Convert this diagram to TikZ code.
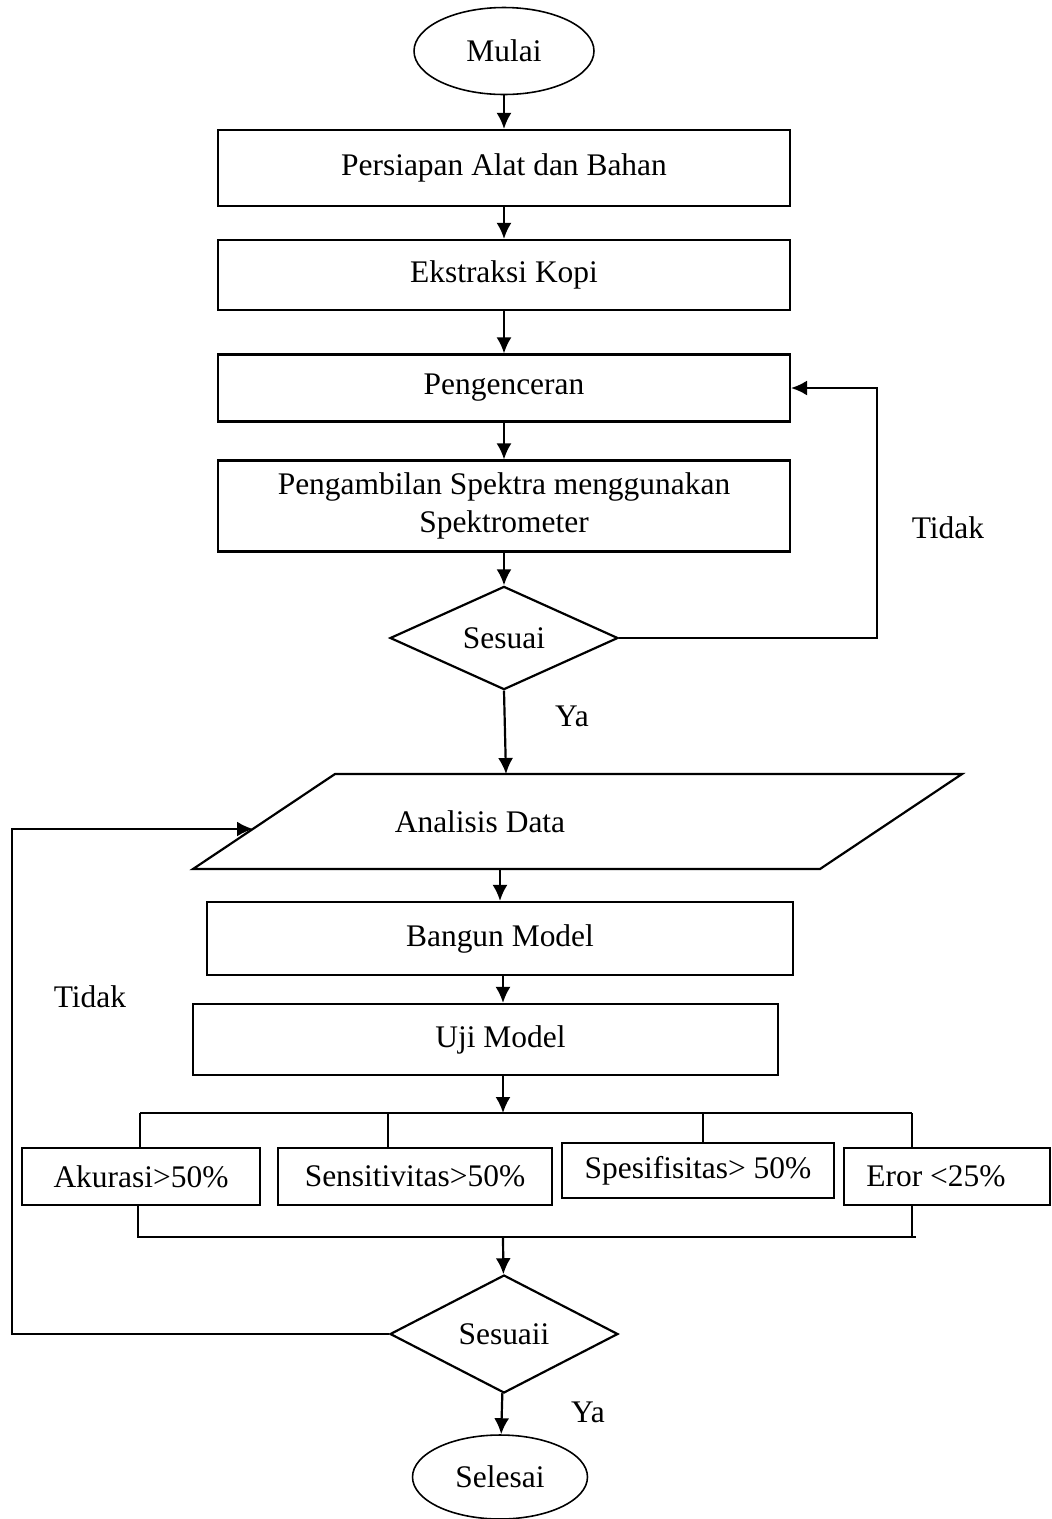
\documentclass[tikz,border=0pt]{standalone}
\usepackage{fontspec}
\setmainfont{Liberation Serif}
\usetikzlibrary{positioning,shapes.geometric,arrows.meta}

\begin{document}
\begin{tikzpicture}[x=0.02cm, y=-0.02cm, line width=1.25pt,
    font=\fontsize{17.9}{21.6}\selectfont,
    box/.style={draw, rectangle, inner sep=0pt, minimum width=11.44cm},
    term/.style={draw, ellipse, inner sep=0pt, line width=0.9pt},
    cond/.style={draw, diamond, inner sep=0pt, minimum width=4.56cm},
    crit/.style={draw, rectangle, inner sep=0pt, minimum height=1.14cm},
    arr/.style={-{Latex[length=0.32cm, width=0.3cm]}}]
    \useasboundingbox (0,0) rectangle (1052,1519);

    \node[term, minimum width=3.6cm, minimum height=1.74cm] (mulai) at (504,51) {Mulai};
    \node[box, minimum height=1.52cm] (siap) at (504,168) {Persiapan Alat dan Bahan};
    \node[box, minimum height=1.4cm] (ekstrak) at (504,275) {Ekstraksi Kopi};
    \node[box, minimum height=1.34cm] (encer) at (504,388) {Pengenceran};
    \node[box, minimum height=1.82cm, align=center] (spektra) at (504,506) {Pengambilan Spektra menggunakan\\Spektrometer};
    \node[cond, minimum height=1.86cm] (sesuai) at (504,638) {Sesuai};

    % parallelogram for data
    \draw (335,774) -- (962,774) -- (820,869) -- (193,869) -- cycle;
    \node (analisis) at (480,822) {Analisis Data};
    \coordinate (antop) at (506,774);
    \coordinate (anbot) at (500,869);
    \coordinate (anleft) at (253,829);

    \node[box, minimum width=11.72cm, minimum height=1.46cm] (bangun) at (500,938.5) {Bangun Model};
    \node[box, minimum width=11.7cm, minimum height=1.42cm] (uji) at (485.5,1039.5) {\hspace{0.6cm}Uji Model};

    \node[crit, minimum width=4.76cm] (akur) at (141,1176.5) {Akurasi>50\%};
    \node[crit, minimum width=5.48cm] (sens) at (415,1176.5) {Sensitivitas>50\%};
    \node[crit, minimum width=5.44cm, minimum height=1.1cm] (spes) at (698,1170.5) {Spesifisitas> 50\%};
    \node[crit, minimum width=4.12cm] (eror) at (947,1176.5) {Eror <25\%\kern0.44cm};

    \node[cond, minimum height=2.36cm] (sesuaii) at (504,1334) {Sesuaii};
    \node[term, minimum width=3.5cm, minimum height=1.68cm] (selesai) at (500,1477) {Selesai};

    \coordinate (mid) at (503,0);
    \coordinate (busA) at (140,1113);
    \coordinate (busB) at (912,1113);
    \coordinate (busC) at (138,1237);
    \coordinate (busD) at (916,1237);
    \coordinate (tr) at (877,0);
    \coordinate (tl) at (12,0);

    % main flow
    \draw[arr] (mulai) -- (siap);
    \draw[arr] (siap) -- (ekstrak);
    \draw[arr] (ekstrak) -- (encer);
    \draw[arr] (encer) -- (spektra);
    \draw[arr] (spektra) -- (sesuai);
    \draw[arr] (sesuai.south) -- (antop);
    \draw[arr] (anbot) -- (anbot |- bangun.north);
    \draw[arr] (bangun.south -| mid) -- (uji.north -| mid);
    \draw[arr] (uji.south -| mid) -- (mid |- busA);

    % criteria bus
    \draw (busA) -- (busB);
    \foreach \x/\n in {140/akur,388/sens,703/spes,912/eror}
        \draw (\x,1113) -- (\x,0 |- \n.north);
    \draw (akur.south -| busC) -- (busC) -- (busD);
    \draw (eror.south -| busB) -- (busB |- busD);
    \draw[arr] (mid |- busC) -- (sesuaii);
    \draw[arr] (sesuaii) -- (selesai);

    % loops
    \draw[arr] (sesuai.east) -- (sesuai.east -| tr) |- (encer.east);
    \draw[arr] (sesuaii.west) -- (sesuaii.west -| tl) |- (anleft);

    \node (tidak1) at (948,528) {Tidak};
    \node (ya1) at (572,716) {Ya};
    \node (tidak2) at (90,997) {Tidak};
    \node (ya2) at (588,1412) {Ya};
\end{tikzpicture}
\end{document}
